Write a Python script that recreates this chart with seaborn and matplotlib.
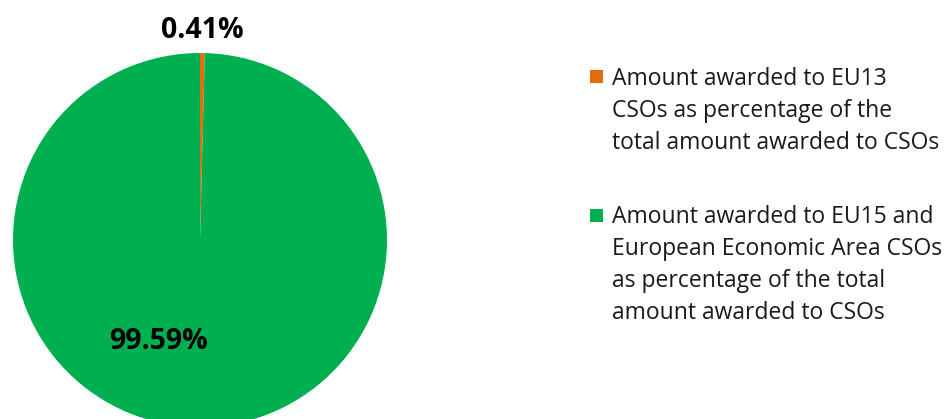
import matplotlib
matplotlib.use("Agg")
import matplotlib.pyplot as plt
import seaborn as sns
from matplotlib.patches import Rectangle

sns.set_theme(style="white")
plt.rcParams['font.family'] = ['Open Sans', 'DejaVu Sans']

categories = ["Amount awarded to EU13\nCSOs as percentage of the\ntotal amount awarded to CSOs",
              "Amount awarded to EU15 and\nEuropean Economic Area CSOs\nas percentage of the total\namount awarded to CSOs"]
values = [0.41, 99.59]
value_labels = ["0.41%", "99.59%"]
colors = ["#E46C0A", "#00B050"]

fig = plt.figure(figsize=(9.46, 4.19), dpi=100)
W, H = 946, 419
cx, cy, r = 200, 240, 187
ax = fig.add_axes([(cx - r) / W, (H - cy - r) / H, 2 * r / W, 2 * r / H])
ax.pie(values, colors=colors, startangle=90, counterclock=False, radius=1,
       wedgeprops=dict(linewidth=0))
ax.set_xlim(-1, 1)
ax.set_ylim(-1, 1)
ax.set_aspect('equal')
ax.axis('off')

# value labels
fig.text(202 / W, 1 - 31 / H, value_labels[0], ha='center', va='center',
         fontsize=20.5, fontweight='bold', color='black')
fig.text(158 / W, 1 - 341 / H, value_labels[1], ha='center', va='center',
         fontsize=20.5, fontweight='bold', color='black')

# legend
legend_tops = [77, 215]
step = 32
for lab, col, yt in zip(categories, colors, legend_tops):
    fig.patches.append(Rectangle((590 / W, 1 - (yt + 6.5) / H), 13 / W, 13 / H,
                                 transform=fig.transFigure, facecolor=col,
                                 edgecolor='none'))
    for i, line in enumerate(lab.split("\n")):
        fig.text(612 / W, 1 - (yt + 8 + i * step) / H, line, ha='left',
                 va='baseline', fontsize=16.5, color='#1a1a1a')

fig.savefig("out.png", dpi=100)
